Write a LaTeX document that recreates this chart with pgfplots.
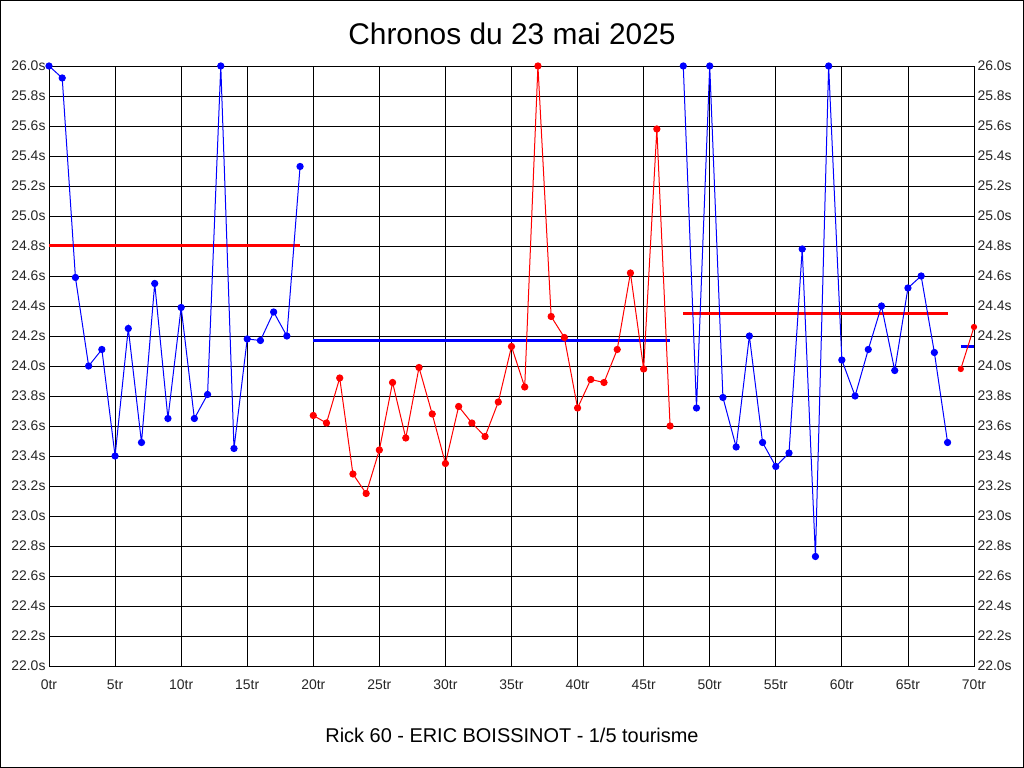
\documentclass[border=0pt]{standalone}
\usepackage{pgfplots}
\pgfplotsset{compat=1.18}
\usepackage{fontspec}
\setmainfont{Liberation Sans}
\definecolor{pblue}{RGB}{0,0,255}
\definecolor{pred}{RGB}{255,0,0}
\begin{document}
\begin{tikzpicture}[x=1bp,y=1bp]
\useasboundingbox (0,0) rectangle (1024,768);
\fill[white] (0,0) rectangle (1024,768);
\draw[black,line width=1bp] (0.5,0.5) rectangle (1023.5,767.5);
\node[anchor=base,font=\fontsize{30}{34}\selectfont] at (512,723) {Chronos du 23 mai 2025};
\node[anchor=base,font=\fontsize{20}{24}\selectfont] at (512,25) {Rick 60 - ERIC BOISSINOT - 1/5 tourisme};
\pgfplotsset{
  myaxis/.style={
    at={(49bp,102bp)}, anchor=south west,
    width=925bp, height=600bp, scale only axis,
    xmin=0, xmax=70, ymin=22, ymax=26,
    xtick={0,5,10,15,20,25,30,35,40,45,50,55,60,65,70},
    ytick={22,22.2,22.4,22.6,22.8,23,23.2,23.4,23.6,23.8,24,24.2,24.4,24.6,24.8,25,25.2,25.4,25.6,25.8,26},
    yticklabels={22.0s,22.2s,22.4s,22.6s,22.8s,23.0s,23.2s,23.4s,23.6s,23.8s,24.0s,24.2s,24.4s,24.6s,24.8s,25.0s,25.2s,25.4s,25.6s,25.8s,26.0s},
    major tick length=0pt,
    tick style={draw=none},
    ticklabel style={font=\fontsize{14}{16}\selectfont, text=black!85},
    axis line style={black, line width=0.9bp},
    clip=false,
  }
}
\begin{axis}[myaxis,
  xticklabels={0tr,5tr,10tr,15tr,20tr,25tr,30tr,35tr,40tr,45tr,50tr,55tr,60tr,65tr,70tr},
  xticklabel style={yshift=-10bp},
  grid=major, grid style={black, line width=0.8bp},
  yticklabel pos=left,
]
% average lines
\addplot[pred, line width=3bp] coordinates {(0,24.80) (19,24.80)};
\addplot[pblue, line width=3bp] coordinates {(20,24.17) (47,24.17)};
\addplot[pred, line width=3bp] coordinates {(48,24.35) (68,24.35)};
\addplot[pblue, line width=3bp] coordinates {(69,24.13) (70,24.13)};
% series
\addplot[pblue, line width=1bp, mark=*, mark size=3.1bp] table {
0 26.00
1 25.92
2 24.59
3 24.00
4 24.11
5 23.40
6 24.25
7 23.49
8 24.55
9 23.65
10 24.39
11 23.65
12 23.81
13 26.00
14 23.45
15 24.18
16 24.17
17 24.36
18 24.20
19 25.33
};
\addplot[pred, line width=1bp, mark=*, mark size=3.1bp] table {
20 23.67
21 23.62
22 23.92
23 23.28
24 23.15
25 23.44
26 23.89
27 23.52
28 23.99
29 23.68
30 23.35
31 23.73
32 23.62
33 23.53
34 23.76
35 24.13
36 23.86
37 26.00
38 24.33
39 24.19
40 23.72
41 23.91
42 23.89
43 24.11
44 24.62
45 23.98
46 25.58
47 23.60
};
\addplot[pblue, line width=1bp, mark=*, mark size=3.1bp] table {
48 26.00
49 23.72
50 26.00
51 23.79
52 23.46
53 24.20
54 23.49
55 23.33
56 23.42
57 24.78
58 22.73
59 26.00
60 24.04
61 23.80
62 24.11
63 24.40
64 23.97
65 24.52
66 24.60
67 24.09
68 23.49
};
\addplot[pred, line width=1bp, mark=*, mark size=2.6bp] table {
69 23.98
70 24.26
};
\end{axis}
\begin{axis}[myaxis,
  xticklabels={},
  yticklabel pos=right,
  axis line style={draw=none},
]
\end{axis}
\end{tikzpicture}
\end{document}
